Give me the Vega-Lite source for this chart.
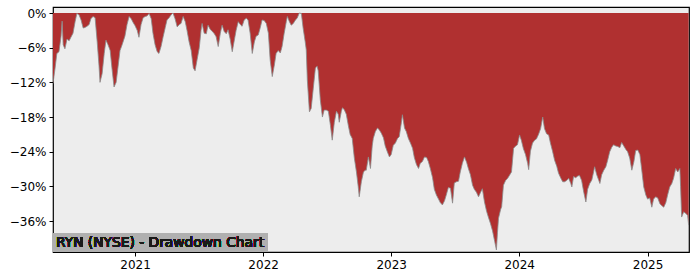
{
  "$schema": "https://vega.github.io/schema/vega-lite/v6.json",
  "width": 636,
  "height": 245,
  "autosize": "none",
  "padding": {"left": 53, "top": 7, "right": 11, "bottom": 28},
  "background": "white",
  "config": {
    "font": "DejaVu Sans",
    "view": {"fill": "#ededed", "stroke": "black", "strokeWidth": 1.2},
    "axis": {"grid": false, "domain": false, "tickColor": "black", "labelColor": "black", "labelFontSize": 12, "labelFont": "DejaVu Sans", "tickSize": 4, "tickWidth": 1, "labelPadding": 3, "title": null}
  },
  "data": {"values": [
    {"d":"2020-05-12","v":-12.2},{"d":"2020-05-18","v":-9.5},{"d":"2020-05-23","v":-7.0},{"d":"2020-05-29","v":-6.7},{"d":"2020-06-04","v":-4.0},{"d":"2020-06-07","v":-1.4},{"d":"2020-06-10","v":-5.5},{"d":"2020-06-15","v":-6.2},{"d":"2020-06-21","v":-4.5},{"d":"2020-06-27","v":-4.8},{"d":"2020-07-02","v":-4.2},{"d":"2020-07-08","v":-3.5},{"d":"2020-07-14","v":-1.5},{"d":"2020-07-19","v":-0.1},{"d":"2020-07-25","v":-0.3},{"d":"2020-07-31","v":-1.2},{"d":"2020-08-06","v":-2.6},{"d":"2020-08-11","v":-2.5},{"d":"2020-08-17","v":-2.3},{"d":"2020-08-23","v":-2.0},{"d":"2020-08-28","v":-1.0},{"d":"2020-09-03","v":-0.6},{"d":"2020-09-09","v":-0.8},{"d":"2020-09-15","v":-5.0},{"d":"2020-09-20","v":-9.0},{"d":"2020-09-23","v":-12.0},{"d":"2020-09-29","v":-10.5},{"d":"2020-10-05","v":-7.0},{"d":"2020-10-10","v":-4.7},{"d":"2020-10-16","v":-5.5},{"d":"2020-10-22","v":-6.5},{"d":"2020-10-27","v":-9.5},{"d":"2020-11-02","v":-12.8},{"d":"2020-11-08","v":-12.0},{"d":"2020-11-14","v":-9.0},{"d":"2020-11-19","v":-6.5},{"d":"2020-11-25","v":-5.5},{"d":"2020-12-03","v":-4.0},{"d":"2020-12-09","v":-2.0},{"d":"2020-12-15","v":-0.6},{"d":"2020-12-21","v":-1.0},{"d":"2020-12-26","v":-1.6},
    {"d":"2021-01-01","v":-2.2},{"d":"2021-01-07","v":-3.0},{"d":"2021-01-12","v":-4.2},{"d":"2021-01-18","v":-2.0},{"d":"2021-01-24","v":-0.8},{"d":"2021-01-30","v":-0.6},{"d":"2021-02-04","v":-0.5},{"d":"2021-02-10","v":-0.1},{"d":"2021-02-16","v":-1.0},{"d":"2021-02-21","v":-3.5},{"d":"2021-02-27","v":-5.5},{"d":"2021-03-05","v":-6.7},{"d":"2021-03-10","v":-7.0},{"d":"2021-03-16","v":-5.8},{"d":"2021-03-22","v":-4.1},{"d":"2021-03-28","v":-2.5},{"d":"2021-04-02","v":-1.2},{"d":"2021-04-08","v":-0.8},{"d":"2021-04-14","v":-0.3},{"d":"2021-04-19","v":0},{"d":"2021-04-25","v":-1.0},{"d":"2021-05-01","v":-2.4},{"d":"2021-05-07","v":-2.0},{"d":"2021-05-12","v":-1.8},{"d":"2021-05-18","v":-0.6},{"d":"2021-05-24","v":-1.5},{"d":"2021-05-29","v":-3.0},{"d":"2021-06-04","v":-5.0},{"d":"2021-06-10","v":-6.5},{"d":"2021-06-16","v":-9.5},{"d":"2021-06-21","v":-10.0},{"d":"2021-06-27","v":-8.0},{"d":"2021-07-03","v":-6.0},{"d":"2021-07-08","v":-3.0},{"d":"2021-07-11","v":-1.8},{"d":"2021-07-17","v":-3.5},{"d":"2021-07-23","v":-3.6},{"d":"2021-07-28","v":-2.1},{"d":"2021-08-03","v":-2.8},{"d":"2021-08-09","v":-3.2},{"d":"2021-08-14","v":-3.5},{"d":"2021-08-20","v":-4.1},{"d":"2021-08-26","v":-5.8},{"d":"2021-09-01","v":-3.5},{"d":"2021-09-06","v":-2.1},{"d":"2021-09-12","v":-3.2},{"d":"2021-09-18","v":-3.6},{"d":"2021-09-23","v":-2.9},{"d":"2021-09-29","v":-4.5},{"d":"2021-10-05","v":-6.7},{"d":"2021-10-10","v":-5.0},{"d":"2021-10-16","v":-3.0},{"d":"2021-10-22","v":-1.5},{"d":"2021-10-28","v":-2.0},{"d":"2021-11-02","v":-2.3},{"d":"2021-11-08","v":-1.2},{"d":"2021-11-14","v":-0.9},{"d":"2021-11-19","v":-1.2},{"d":"2021-11-25","v":-3.5},{"d":"2021-12-01","v":-7.0},{"d":"2021-12-07","v":-5.0},{"d":"2021-12-12","v":-4.0},{"d":"2021-12-18","v":-3.8},{"d":"2021-12-24","v":-2.5},{"d":"2021-12-29","v":-1.2},
    {"d":"2022-01-04","v":-1.3},{"d":"2022-01-10","v":-1.8},{"d":"2022-01-16","v":-3.5},{"d":"2022-01-21","v":-8.1},{"d":"2022-01-27","v":-11.0},{"d":"2022-02-02","v":-9.0},{"d":"2022-02-07","v":-7.0},{"d":"2022-02-13","v":-6.5},{"d":"2022-02-19","v":-6.9},{"d":"2022-02-24","v":-5.8},{"d":"2022-03-02","v":-3.5},{"d":"2022-03-08","v":-1.5},{"d":"2022-03-11","v":-0.6},{"d":"2022-03-17","v":-1.5},{"d":"2022-03-22","v":-2.1},{"d":"2022-03-28","v":-1.8},{"d":"2022-04-03","v":-1.2},{"d":"2022-04-08","v":-0.9},{"d":"2022-04-14","v":0},{"d":"2022-04-20","v":-0.1},{"d":"2022-04-25","v":-2.6},{"d":"2022-05-01","v":-5.0},{"d":"2022-05-04","v":-6.4},{"d":"2022-05-07","v":-11.6},{"d":"2022-05-13","v":-17.1},{"d":"2022-05-18","v":-16.5},{"d":"2022-05-24","v":-13.0},{"d":"2022-05-30","v":-9.5},{"d":"2022-06-04","v":-9.2},{"d":"2022-06-07","v":-10.0},{"d":"2022-06-13","v":-15.0},{"d":"2022-06-19","v":-18.0},{"d":"2022-06-24","v":-16.8},{"d":"2022-06-30","v":-16.8},{"d":"2022-07-06","v":-17.0},{"d":"2022-07-12","v":-19.5},{"d":"2022-07-17","v":-22.0},{"d":"2022-07-23","v":-18.9},{"d":"2022-07-29","v":-17.0},{"d":"2022-08-03","v":-17.5},{"d":"2022-08-06","v":-18.9},{"d":"2022-08-12","v":-17.0},{"d":"2022-08-15","v":-16.4},{"d":"2022-08-20","v":-16.7},{"d":"2022-08-26","v":-17.5},{"d":"2022-09-01","v":-19.5},{"d":"2022-09-06","v":-21.0},{"d":"2022-09-12","v":-21.7},{"d":"2022-09-18","v":-25.1},{"d":"2022-09-24","v":-27.5},{"d":"2022-09-29","v":-30.0},{"d":"2022-10-02","v":-31.8},{"d":"2022-10-08","v":-29.2},{"d":"2022-10-14","v":-27.5},{"d":"2022-10-19","v":-27.2},{"d":"2022-10-22","v":-27.2},{"d":"2022-10-28","v":-24.9},{"d":"2022-11-03","v":-26.9},{"d":"2022-11-08","v":-23.0},{"d":"2022-11-11","v":-21.7},{"d":"2022-11-17","v":-20.5},{"d":"2022-11-23","v":-19.9},{"d":"2022-11-28","v":-20.2},{"d":"2022-12-04","v":-20.8},{"d":"2022-12-10","v":-21.6},{"d":"2022-12-15","v":-23.0},{"d":"2022-12-21","v":-24.0},{"d":"2022-12-27","v":-24.9},
    {"d":"2023-01-01","v":-24.5},{"d":"2023-01-07","v":-22.9},{"d":"2023-01-13","v":-22.5},{"d":"2023-01-19","v":-21.7},{"d":"2023-01-24","v":-21.4},{"d":"2023-01-30","v":-19.0},{"d":"2023-02-02","v":-17.6},{"d":"2023-02-08","v":-19.9},{"d":"2023-02-13","v":-20.5},{"d":"2023-02-19","v":-21.7},{"d":"2023-02-25","v":-22.5},{"d":"2023-03-03","v":-23.4},{"d":"2023-03-08","v":-25.0},{"d":"2023-03-14","v":-26.2},{"d":"2023-03-20","v":-26.9},{"d":"2023-03-25","v":-26.0},{"d":"2023-03-31","v":-25.7},{"d":"2023-04-06","v":-24.9},{"d":"2023-04-12","v":-25.0},{"d":"2023-04-17","v":-25.7},{"d":"2023-04-23","v":-27.0},{"d":"2023-04-29","v":-28.5},{"d":"2023-05-04","v":-30.5},{"d":"2023-05-10","v":-31.5},{"d":"2023-05-16","v":-32.2},{"d":"2023-05-21","v":-32.8},{"d":"2023-05-27","v":-33.2},{"d":"2023-06-02","v":-32.5},{"d":"2023-06-07","v":-31.5},{"d":"2023-06-13","v":-30.2},{"d":"2023-06-19","v":-30.3},{"d":"2023-06-25","v":-32.9},{"d":"2023-06-30","v":-29.4},{"d":"2023-07-06","v":-29.2},{"d":"2023-07-12","v":-29.1},{"d":"2023-07-17","v":-27.5},{"d":"2023-07-23","v":-26.0},{"d":"2023-07-29","v":-24.9},{"d":"2023-08-04","v":-25.8},{"d":"2023-08-09","v":-26.9},{"d":"2023-08-15","v":-28.0},{"d":"2023-08-21","v":-29.8},{"d":"2023-08-26","v":-30.5},{"d":"2023-09-01","v":-31.0},{"d":"2023-09-07","v":-31.8},{"d":"2023-09-13","v":-31.0},{"d":"2023-09-18","v":-30.4},{"d":"2023-09-24","v":-32.7},{"d":"2023-09-30","v":-34.3},{"d":"2023-10-05","v":-35.3},{"d":"2023-10-11","v":-36.4},{"d":"2023-10-17","v":-37.7},{"d":"2023-10-23","v":-39.5},{"d":"2023-10-28","v":-41.0},{"d":"2023-10-31","v":-38.0},{"d":"2023-11-03","v":-35.5},{"d":"2023-11-09","v":-34.0},{"d":"2023-11-12","v":-33.5},{"d":"2023-11-17","v":-29.8},{"d":"2023-11-23","v":-29.0},{"d":"2023-11-29","v":-28.6},{"d":"2023-12-04","v":-28.1},{"d":"2023-12-10","v":-27.5},{"d":"2023-12-16","v":-23.4},{"d":"2023-12-22","v":-23.0},{"d":"2023-12-27","v":-22.8},
    {"d":"2024-01-02","v":-21.1},{"d":"2024-01-07","v":-22.0},{"d":"2024-01-13","v":-23.5},{"d":"2024-01-19","v":-24.5},{"d":"2024-01-25","v":-26.0},{"d":"2024-01-28","v":-27.1},{"d":"2024-02-02","v":-23.9},{"d":"2024-02-08","v":-22.5},{"d":"2024-02-14","v":-22.0},{"d":"2024-02-19","v":-21.8},{"d":"2024-02-25","v":-21.0},{"d":"2024-03-02","v":-20.0},{"d":"2024-03-08","v":-18.0},{"d":"2024-03-13","v":-20.0},{"d":"2024-03-19","v":-20.9},{"d":"2024-03-25","v":-21.1},{"d":"2024-03-30","v":-22.5},{"d":"2024-04-05","v":-23.9},{"d":"2024-04-11","v":-25.5},{"d":"2024-04-17","v":-26.5},{"d":"2024-04-22","v":-27.7},{"d":"2024-04-28","v":-28.5},{"d":"2024-05-04","v":-29.2},{"d":"2024-05-09","v":-29.2},{"d":"2024-05-15","v":-29.0},{"d":"2024-05-21","v":-28.6},{"d":"2024-05-27","v":-29.5},{"d":"2024-05-30","v":-30.1},{"d":"2024-06-04","v":-28.3},{"d":"2024-06-10","v":-28.5},{"d":"2024-06-16","v":-28.2},{"d":"2024-06-21","v":-28.1},{"d":"2024-06-27","v":-29.0},{"d":"2024-07-03","v":-31.0},{"d":"2024-07-09","v":-32.7},{"d":"2024-07-14","v":-30.5},{"d":"2024-07-20","v":-29.5},{"d":"2024-07-26","v":-28.9},{"d":"2024-07-31","v":-27.5},{"d":"2024-08-03","v":-26.6},{"d":"2024-08-09","v":-28.0},{"d":"2024-08-15","v":-29.0},{"d":"2024-08-18","v":-29.5},{"d":"2024-08-23","v":-28.0},{"d":"2024-08-29","v":-27.2},{"d":"2024-09-04","v":-26.6},{"d":"2024-09-09","v":-25.5},{"d":"2024-09-15","v":-24.0},{"d":"2024-09-21","v":-23.2},{"d":"2024-09-26","v":-22.8},{"d":"2024-10-02","v":-23.0},{"d":"2024-10-08","v":-23.1},{"d":"2024-10-14","v":-23.3},{"d":"2024-10-19","v":-22.4},{"d":"2024-10-25","v":-23.0},{"d":"2024-10-31","v":-23.6},{"d":"2024-11-05","v":-24.0},{"d":"2024-11-11","v":-25.1},{"d":"2024-11-17","v":-27.2},{"d":"2024-11-23","v":-25.7},{"d":"2024-11-28","v":-23.8},{"d":"2024-12-04","v":-23.7},{"d":"2024-12-10","v":-24.5},{"d":"2024-12-15","v":-27.0},{"d":"2024-12-21","v":-30.1},{"d":"2024-12-27","v":-31.5},
    {"d":"2025-01-01","v":-32.2},{"d":"2025-01-07","v":-32.0},{"d":"2025-01-13","v":-33.6},{"d":"2025-01-18","v":-32.2},{"d":"2025-01-24","v":-31.8},{"d":"2025-01-30","v":-32.0},{"d":"2025-02-05","v":-33.0},{"d":"2025-02-10","v":-33.3},{"d":"2025-02-16","v":-33.6},{"d":"2025-02-22","v":-32.8},{"d":"2025-02-27","v":-31.5},{"d":"2025-03-05","v":-30.1},{"d":"2025-03-11","v":-29.5},{"d":"2025-03-16","v":-28.6},{"d":"2025-03-22","v":-26.9},{"d":"2025-03-28","v":-27.5},{"d":"2025-04-03","v":-26.9},{"d":"2025-04-05","v":-30.0},{"d":"2025-04-08","v":-35.3},{"d":"2025-04-14","v":-34.4},{"d":"2025-04-20","v":-34.7},{"d":"2025-04-25","v":-35.0},{"d":"2025-04-28","v":-36.7}
  ]},
  "encoding": {
    "x": {
      "field": "d", "type": "temporal",
      "scale": {"type": "utc", "domain": [{"year": 2020, "month": 5, "date": 12, "utc": true}, {"year": 2025, "month": 4, "date": 29, "utc": true}], "nice": false},
      "axis": {"values": [{"year": 2021, "month": 1, "date": 1, "utc": true}, {"year": 2022, "month": 1, "date": 1, "utc": true}, {"year": 2023, "month": 1, "date": 1, "utc": true}, {"year": 2024, "month": 1, "date": 1, "utc": true}, {"year": 2025, "month": 1, "date": 1, "utc": true}], "format": "%Y", "labelFlush": false, "labelOverlap": false}
    },
    "y": {
      "field": "v", "type": "quantitative",
      "scale": {"domain": [-41.35, 1.04], "nice": false, "zero": false},
      "axis": {"values": [0, -6, -12, -18, -24, -30, -36], "labelExpr": "replace(datum.value + '%', '-', '\u2212')"}
    }
  },
  "layer": [
    {"mark": {"type": "area", "color": "#b03030", "clip": true}, "encoding": {"y2": {"datum": 0}}},
    {"mark": {"type": "line", "color": "#8a8a8a", "strokeWidth": 0.8, "clip": true}},
    {"mark": {"type": "rect", "color": "#b0b0b0"},
     "encoding": {
       "x": {"datum": {"year": 2020, "month": 5, "date": 12, "utc": true}, "type": "temporal"},
       "x2": {"datum": {"year": 2022, "month": 1, "date": 13, "utc": true}},
       "y": {"datum": -41.35},
       "y2": {"datum": -38.06}
     }},
    {"mark": {"type": "text", "text": "RYN (NYSE) - Drawdown Chart", "align": "left", "baseline": "middle", "dx": 3, "dy": 1, "fontSize": 13.8, "font": "DejaVu Sans", "fontWeight": "normal", "fill": "#1a1a1a", "stroke": null},
     "encoding": {
       "x": {"datum": {"year": 2020, "month": 5, "date": 12, "utc": true}, "type": "temporal"},
       "y": {"datum": -39.7}
     }}
  ]
}
